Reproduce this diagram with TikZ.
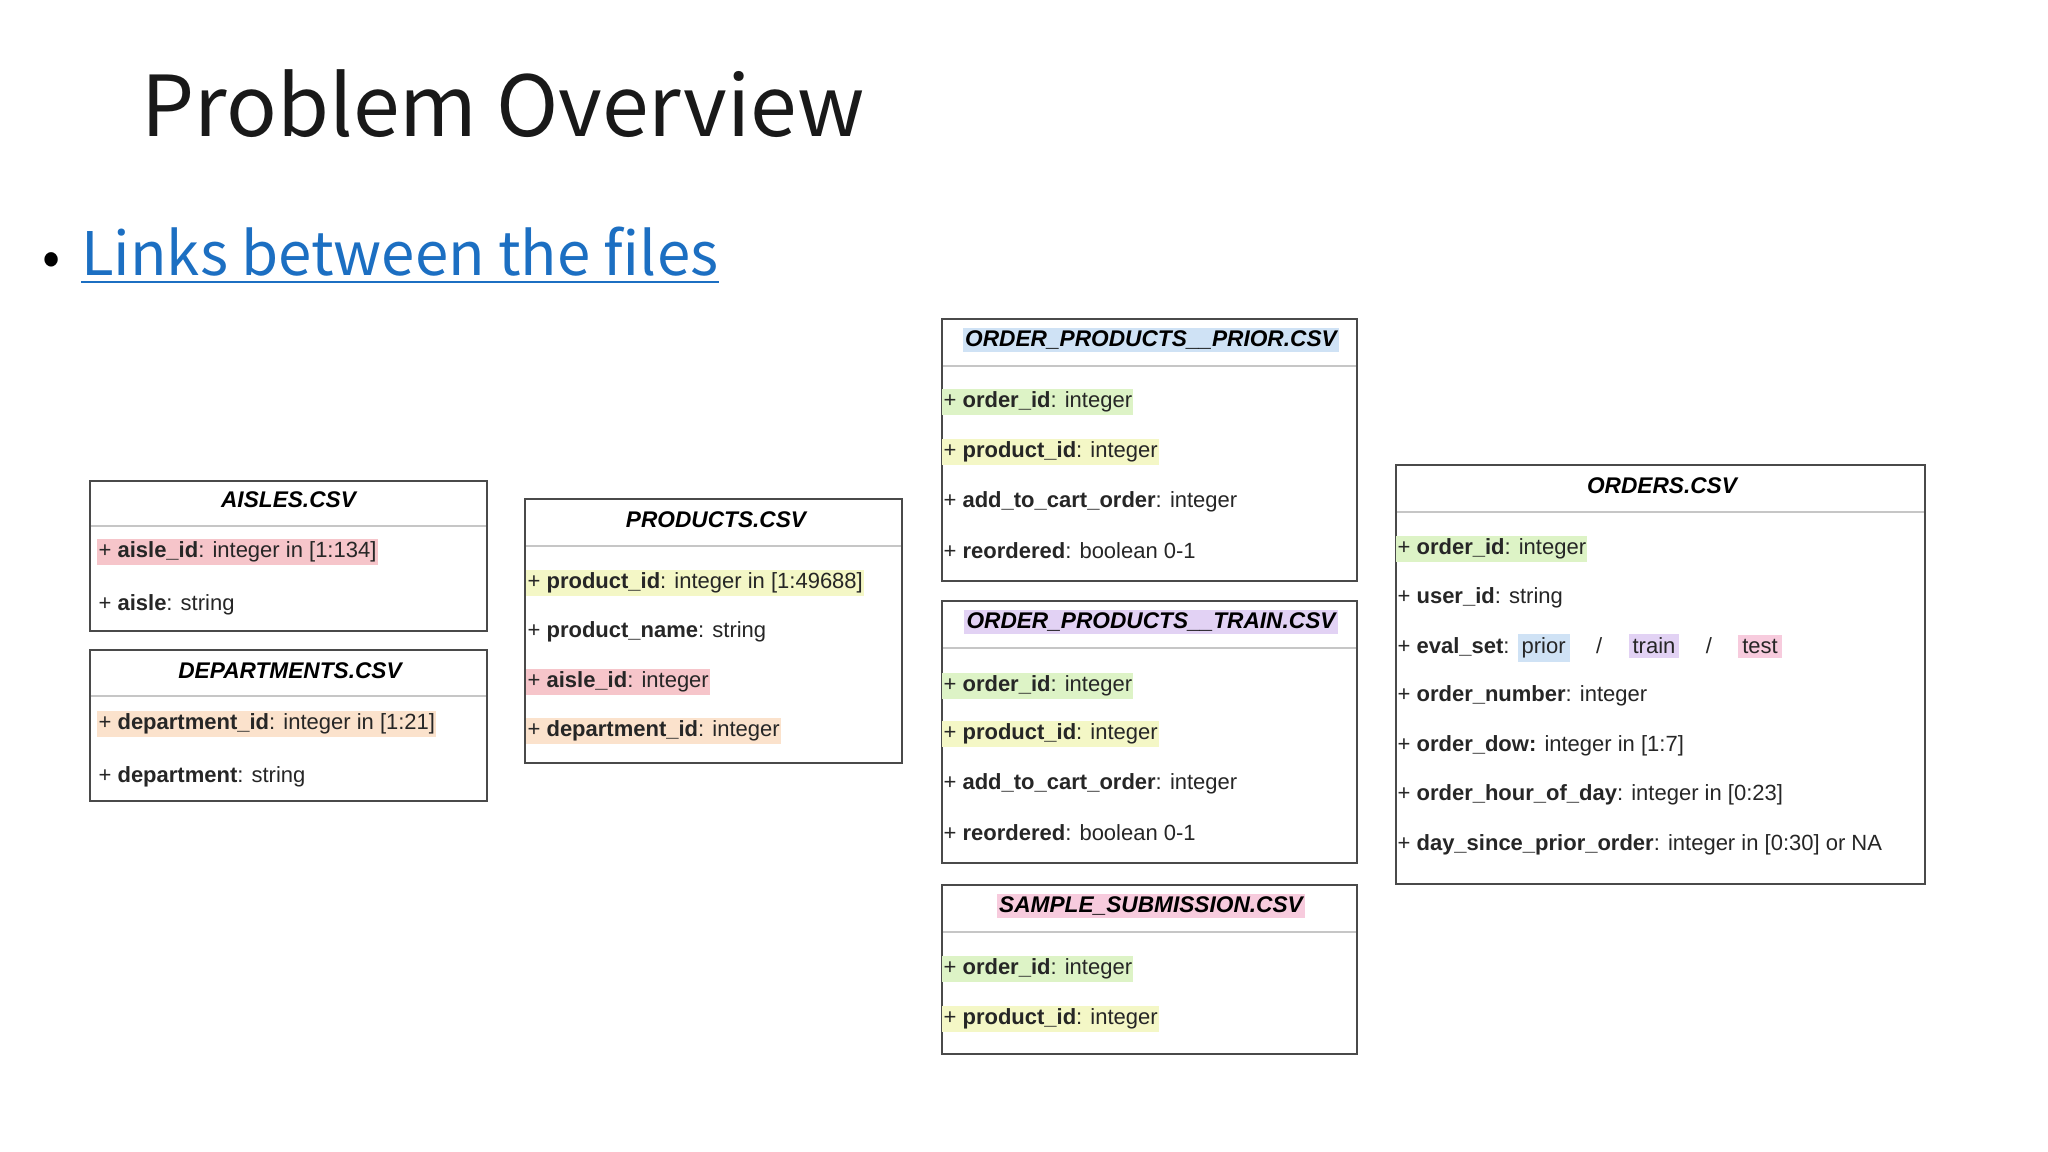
\documentclass[tikz,border=0pt]{standalone}
\usepackage{fontspec}
\setmainfont{Liberation Sans}
\newfontfamily\cjkfont{Noto Sans CJK JP}
\definecolor{hred}{HTML}{F6C5CA}
\definecolor{hyel}{HTML}{F4F7C6}
\definecolor{horg}{HTML}{FBE2CC}
\definecolor{hgrn}{HTML}{DDF3C6}
\definecolor{hblu}{HTML}{CFE2F5}
\definecolor{hpur}{HTML}{E2D2F4}
\definecolor{hpnk}{HTML}{F7CBDD}
\definecolor{linkblue}{HTML}{1C6FC2}
\definecolor{boxline}{HTML}{4A4A4A}
\tikzset{
 tbl/.style={draw=boxline,line width=1.6pt},
 sepline/.style={draw=gray!45,line width=2.2pt},
 hdr/.style={font=\fontsize{17}{19}\selectfont\bfseries\itshape,inner sep=2pt},
 rowt/.style={anchor=west,font=\fontsize{16.5}{18}\selectfont,inner xsep=1pt,inner ysep=2pt,text=black!85}
}
\newcommand{\fld}[2]{+ \textbf{#1}: #2}
\begin{document}
\begin{tikzpicture}[x=0.75pt,y=-0.75pt]
\useasboundingbox[fill=white] (0,0) rectangle (2048,1152);
\node[anchor=base west,font=\cjkfont\fontsize{63}{70}\selectfont,text=black!90] (title) at (137,137) {Problem Overview};
\node[anchor=base west,font=\cjkfont\fontsize{45}{50}\selectfont,text=linkblue,inner sep=0pt] (link) at (81,275) {Links between the files};
\draw[linkblue,line width=1.5pt] (link.south west) ++(0,6) coordinate (ul1) -- (ul1 -| link.south east);
\node[anchor=base,font=\cjkfont\fontsize{40}{44}\selectfont] (bul) at (52,275) {•};
% AISLES
\draw[tbl] (90,481) rectangle (487,631);
\draw[sepline] (91,526) -- (486,526);
\node[hdr] (ah) at (288.5,500) {AISLES.CSV};
\node[rowt,fill=hred] (a1) at (97,552) {\fld{aisle\_id}{integer in [1:134]}};
\node[rowt] (a2) at (97,605) {\fld{aisle}{string}};
% DEPARTMENTS
\draw[tbl] (90,650) rectangle (487,801);
\draw[sepline] (91,696) -- (486,696);
\node[hdr] (dh) at (290,671) {DEPARTMENTS.CSV};
\node[rowt,fill=horg] (d1) at (97,724) {\fld{department\_id}{integer in [1:21]}};
\node[rowt] (d2) at (97,777) {\fld{department}{string}};
% PRODUCTS
\draw[tbl] (525,499) rectangle (902,763);
\draw[sepline] (526,546) -- (901,546);
\node[hdr] (ph) at (716,520) {PRODUCTS.CSV};
\node[rowt,fill=hyel] (p1) at (526,583) {\fld{product\_id}{integer in [1:49688]}};
\node[rowt] (p2) at (526,632) {\fld{product\_name}{string}};
\node[rowt,fill=hred] (p3) at (526,682) {\fld{aisle\_id}{integer}};
\node[rowt,fill=horg] (p4) at (526,731) {\fld{department\_id}{integer}};
% PRIOR
\draw[tbl] (942,319) rectangle (1357,581);
\draw[sepline] (943,366) -- (1356,366);
\node[hdr,fill=hblu] (oph) at (1151,340) {ORDER\_PRODUCTS\_\_PRIOR.CSV};
\node[rowt,fill=hgrn] (op1) at (942,402) {\fld{order\_id}{integer}};
\node[rowt,fill=hyel] (op2) at (942,452) {\fld{product\_id}{integer}};
\node[rowt] (op3) at (942,502) {\fld{add\_to\_cart\_order}{integer}};
\node[rowt] (op4) at (942,551) {\fld{reordered}{boolean 0-1}};
% TRAIN
\draw[tbl] (942,601) rectangle (1357,863);
\draw[sepline] (943,648) -- (1356,648);
\node[hdr,fill=hpur] (oth) at (1151,622) {ORDER\_PRODUCTS\_\_TRAIN.CSV};
\node[rowt,fill=hgrn] (ot1) at (942,686) {\fld{order\_id}{integer}};
\node[rowt,fill=hyel] (ot2) at (942,734) {\fld{product\_id}{integer}};
\node[rowt] (ot3) at (942,784) {\fld{add\_to\_cart\_order}{integer}};
\node[rowt] (ot4) at (942,833) {\fld{reordered}{boolean 0-1}};
% SAMPLE
\draw[tbl] (942,885) rectangle (1357,1054);
\draw[sepline] (943,932) -- (1356,932);
\node[hdr,fill=hpnk] (sh) at (1151,906) {SAMPLE\_SUBMISSION.CSV};
\node[rowt,fill=hgrn] (s1) at (942,969) {\fld{order\_id}{integer}};
\node[rowt,fill=hyel] (s2) at (942,1019) {\fld{product\_id}{integer}};
% ORDERS
\draw[tbl] (1396,465) rectangle (1925,884);
\draw[sepline] (1397,512) -- (1924,512);
\node[hdr] (oh) at (1662,486) {ORDERS.CSV};
\node[rowt,fill=hgrn] (o1) at (1396,549) {\fld{order\_id}{integer}};
\node[rowt] (o2) at (1396,598) {\fld{user\_id}{string}};
\node[rowt] (o3) at (1396,648) {+ \textbf{eval\_set}: \colorbox{hblu}{prior}\hspace{1.2em}/\hspace{1.2em}\colorbox{hpur}{train}\hspace{1.2em}/\hspace{1.2em}\colorbox{hpnk}{test}};
\node[rowt] (o4) at (1396,696) {\fld{order\_number}{integer}};
\node[rowt] (o5) at (1396,746) {+ \textbf{order\_dow:} integer in [1:7]};
\node[rowt] (o6) at (1396,795) {\fld{order\_hour\_of\_day}{integer in [0:23]}};
\node[rowt] (o7) at (1396,845) {\fld{day\_since\_prior\_order}{integer in [0:30] or NA}};
\end{tikzpicture}
\end{document}
